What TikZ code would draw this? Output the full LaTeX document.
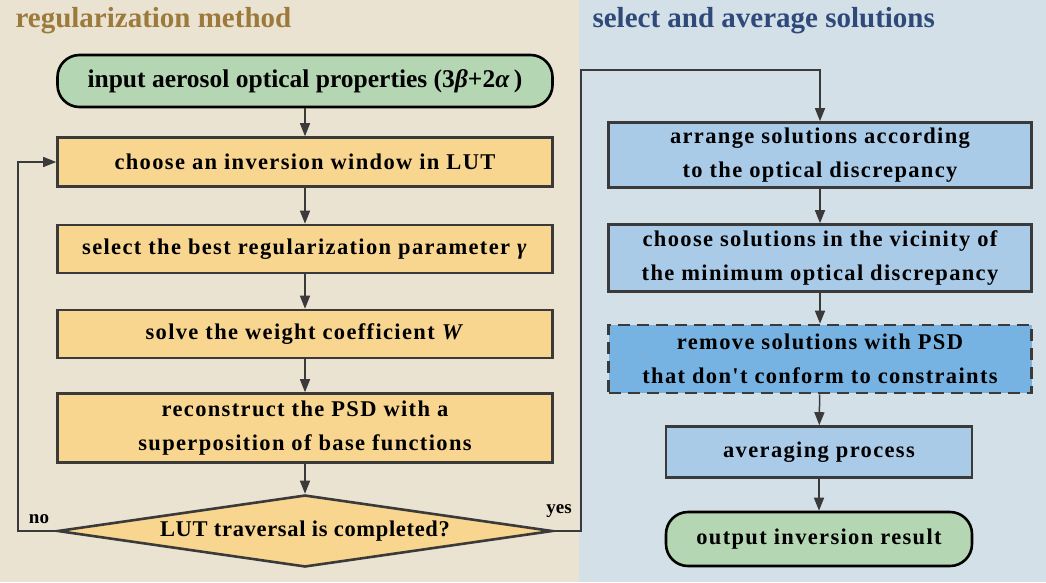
\documentclass[tikz,border=0pt]{standalone}
\usepackage{fontspec}
\setmainfont{Liberation Serif}[Ligatures=TeXOff]
\newfontfamily\spaced{Liberation Serif}[LetterSpace=6,Ligatures=TeXOff]
\newfontfamily\semispaced{Liberation Serif}[LetterSpace=3,Ligatures=TeXOff]
\usetikzlibrary{shapes.geometric,arrows.meta}
\definecolor{bgL}{HTML}{EBE3D2}
\definecolor{bgR}{HTML}{D3E0E8}
\definecolor{ttlL}{HTML}{9C7A3C}
\definecolor{ttlR}{HTML}{2F4A7A}
\definecolor{orng}{HTML}{F8D68F}
\definecolor{lblue}{HTML}{AACBE8}
\definecolor{dblue}{HTML}{76B3E2}
\definecolor{grn}{HTML}{B4D6B3}
\definecolor{edge}{HTML}{3A3A3A}
\tikzset{
  boxL/.style={draw=edge, line width=2.6pt, fill=orng, minimum width=495pt, align=center, font=\spaced\fontsize{22.5}{34}\selectfont\bfseries, text=black},
  boxR/.style={draw=edge, line width=2.6pt, fill=lblue, minimum width=423pt, align=center, font=\spaced\fontsize{22.5}{34}\selectfont\bfseries, text=black},
  term/.style={draw=black, line width=2.6pt, fill=grn, rounded corners=22pt, align=center},
  arr/.style={draw=edge, line width=1.5pt, -{Triangle[length=13pt,width=10pt]}},
  ttl/.style={font=\fontsize{29}{32}\selectfont\bfseries, anchor=west},
  lab/.style={font=\fontsize{19}{20}\selectfont\bfseries}
}
\begin{document}
\begin{tikzpicture}[x=1pt,y=-1pt]
\fill[bgL] (0,0) rectangle (579,582);
\fill[bgR] (579,0) rectangle (1046,582);
\useasboundingbox (0,0) rectangle (1046,582);
\node[ttl, text=ttlL] (t1) at (12,21) {regularization method};
\node[ttl, text=ttlR] (t2) at (589,21) {select and average solutions};

\node[term, minimum width=495pt, minimum height=52pt, font=\fontsize{25.5}{34}\selectfont\bfseries] (in) at (305,81) {input aerosol optical properties (3\textit{β}+2\textit{α}\,)};
\node[boxL, minimum height=49pt] (win) at (305,162) {choose an inversion window in LUT};
\node[boxL, minimum height=48pt] (par) at (305,249) {select the best regularization parameter \textit{γ}};
\node[boxL, minimum height=48pt] (wc) at (305,334) {solve the weight coefficient \textit{W}};
\node[boxL, minimum height=69pt] (rec) at (305,428) {reconstruct the PSD with a\\superposition of base functions};
\node[draw=edge, line width=2.6pt, fill=orng, diamond, aspect=6.9, inner sep=0pt, minimum width=495pt, minimum height=72pt, font=\semispaced\fontsize{22.5}{26}\selectfont\bfseries] (dia) at (305,531) {LUT traversal is completed?};

\node[boxR, minimum height=65pt] (arrg) at (820,155) {arrange solutions according\\to the optical discrepancy};
\node[boxR, minimum height=67pt] (cho) at (820,258) {choose solutions in the vicinity of\\the minimum optical discrepancy};
\node[boxR, fill=dblue, dash pattern=on 12pt off 7pt, minimum height=68pt] (rem) at (820,359) {remove solutions with PSD\\that don't conform to constraints};
\node[boxR, minimum width=306pt, minimum height=51pt] (avg) at (819,452) {averaging process};
\node[term, minimum width=306pt, minimum height=54pt, font=\spaced\fontsize{22.5}{34}\selectfont\bfseries] (out) at (819,539) {output inversion result};

\draw[arr] (in) -- (win);
\draw[arr] (win) -- (par);
\draw[arr] (par) -- (wc);
\draw[arr] (wc) -- (rec);
\draw[arr] (rec) -- (dia);
\coordinate (noc) at (18,531);
\draw[arr] (dia.west) -- (noc) |- (win.west);
\coordinate (yesc) at (581,70);
\draw[arr] (dia.east) -| (yesc) -| (arrg.north);
\draw[arr] (arrg) -- (cho);
\draw[arr] (cho) -- (rem);
\draw[arr] (rem) -- (avg);
\draw[arr] (avg) -- (out);
\node[lab] (no) at (39,519) {no};
\node[lab] (yes) at (559,511) {yes};
\end{tikzpicture}
\end{document}
